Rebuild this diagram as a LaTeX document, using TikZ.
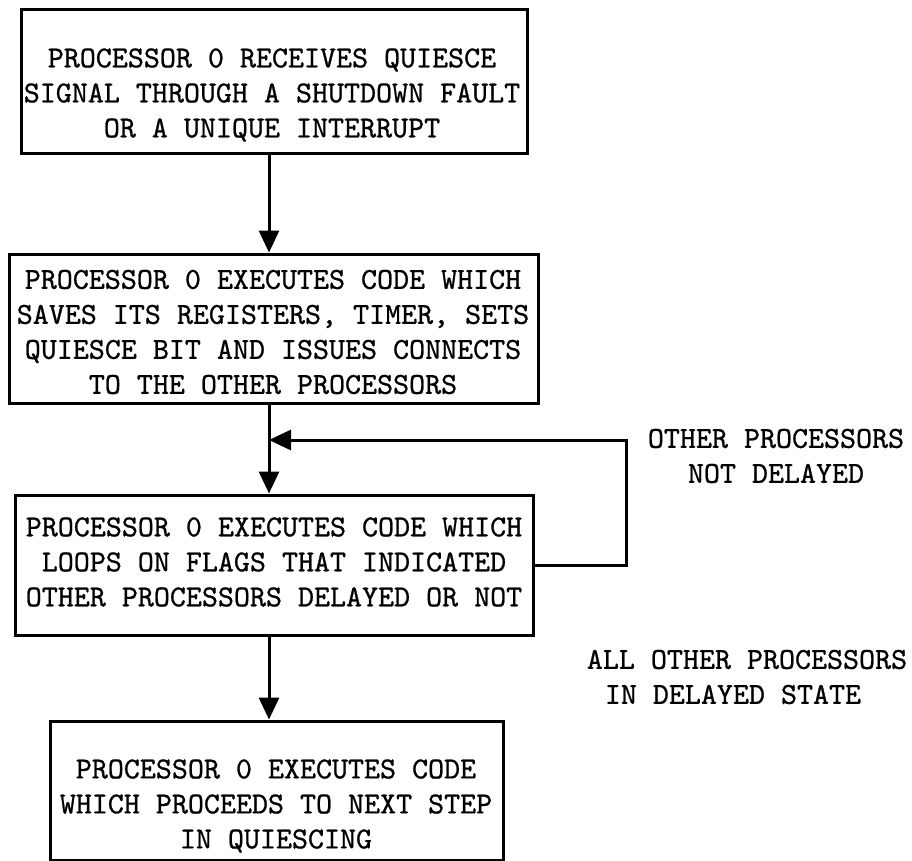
\documentclass[tikz,border=0pt]{standalone}
\usepackage{fontspec}
\usetikzlibrary{arrows.meta}
\newfontfamily\twfont{lmmono10-regular}[Extension=.otf, FakeBold=0.8]
\newcommand{\tw}{\twfont\fontsize{30.5}{35}\selectfont}

\begin{document}
\begin{tikzpicture}[x=1pt,y=-1pt,
  procbox/.style={draw, line width=3pt, inner sep=0pt},
  boxtext/.style={align=center, font=\tw, inner sep=0pt},
  flow/.style={line width=3pt, -{Triangle[width=20pt,length=22pt]}},
  note/.style={font=\tw, inner sep=0pt}]
\useasboundingbox (0,0) rectangle (912,861);
% boxes
\node[procbox, minimum width=506pt, minimum height=144pt] (recv) at (274,82) {};
\node[procbox, minimum width=529pt, minimum height=149pt] (save) at (273.5,328.5) {};
\node[procbox, minimum width=518pt, minimum height=140pt] (wait) at (274,565) {};
\node[procbox, minimum width=453pt, minimum height=139pt] (next) at (276.5,790.5) {};
% box texts
\node[boxtext] (recvtxt) at (272,95) {PROCESSOR 0 RECEIVES QUIESCE\\SIGNAL THROUGH A SHUTDOWN FAULT\\OR A UNIQUE INTERRUPT};
\node[boxtext] (savetxt) at (273,332) {PROCESSOR 0 EXECUTES CODE WHICH\\SAVES ITS REGISTERS, TIMER, SETS\\QUIESCE BIT AND ISSUES CONNECTS\\TO THE OTHER PROCESSORS};
\node[boxtext] (waittxt) at (274,562) {PROCESSOR 0 EXECUTES CODE WHICH\\LOOPS ON FLAGS THAT INDICATED\\OTHER PROCESSORS DELAYED OR NOT};
\node[boxtext] (nexttxt) at (276,806) {PROCESSOR 0 EXECUTES CODE\\WHICH PROCEEDS TO NEXT STEP\\IN QUIESCING};
% labels
\node[note, align=center] (notdel) at (776,456) {OTHER PROCESSORS\\NOT DELAYED};
\node[note, align=left] (alldel) at (747,677) {ALL OTHER PROCESSORS\\\hspace*{18pt}IN DELAYED STATE};
\coordinate (spine) at (269,0);
\coordinate (turn) at (626,440);
\draw[flow] (recv.south -| spine) -- (save.north -| spine);
\draw[flow] (save.south -| spine) -- (wait.north -| spine);
\draw[flow] (wait.east) -| (turn) -- (turn -| spine);
\draw[flow] (wait.south -| spine) -- (next.north -| spine);
\end{tikzpicture}
\end{document}
